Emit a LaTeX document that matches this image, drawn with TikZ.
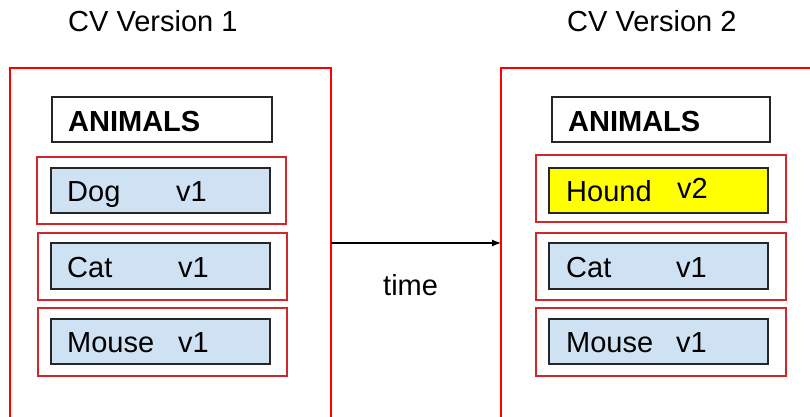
\documentclass[tikz,border=0pt]{standalone}
\usepackage{fontspec}
\setmainfont{Liberation Sans}
\usetikzlibrary{arrows.meta}
\definecolor{outred}{HTML}{FF0000}
\definecolor{inred}{HTML}{D0282A}
\definecolor{lblue}{HTML}{CFE2F3}
\definecolor{yel}{HTML}{FFFF00}
\tikzset{
  txt/.style={anchor=base west, inner sep=0pt, font=\fontsize{29}{34}\selectfont},
  btxt/.style={txt, font=\fontsize{29}{34}\selectfont\bfseries},
  outerbox/.style={draw=outred, line width=2.4pt},
  slotbox/.style={draw=inred, line width=1.4pt},
  itembox/.style={draw=black!85, line width=1.4pt, fill=lblue},
  hdrbox/.style={draw=black!85, line width=1.4pt, fill=white},
}
\begin{document}
\begin{tikzpicture}[x=1pt,y=-1pt]
\useasboundingbox (0,0) rectangle (810,417);
\clip (0,0) rectangle (810,417);
\fill[white] (0,0) rectangle (810,417);
% titles
\node[txt] (t1) at (68,32) {CV Version 1};
\node[txt] (t2) at (567,32) {CV Version 2};
% outer boxes
\draw[outerbox] (10,68) rectangle (331,440);
\draw[outerbox] (501,68) rectangle (830,440);
\coordinate (L) at (331,243);
\coordinate (R) at (501,243);
% left column
\draw[hdrbox] (52,97) rectangle (272,142);
\node[btxt] (a1) at (68,131.5) {ANIMALS};
\draw[slotbox] (37,157) rectangle (286,224);
\draw[itembox] (51,168) rectangle (270,213);
\node[txt] (d1) at (67,201.5) {Dog};
\node[txt] (dv1) at (176,201.5) {v1};
\draw[slotbox] (38,233) rectangle (287,300);
\draw[itembox] (51,243) rectangle (270,289);
\node[txt] (c1) at (67,277.5) {Cat};
\node[txt] (cv1) at (178,277.5) {v1};
\draw[slotbox] (38,308) rectangle (287,376);
\draw[itembox] (51,319) rectangle (270,364);
\node[txt] (m1) at (67,352) {Mouse};
\node[txt] (mv1) at (178,352) {v1};
% right column
\draw[hdrbox] (552,97) rectangle (770,142);
\node[btxt] (a2) at (568,131.5) {ANIMALS};
\draw[slotbox] (536,155) rectangle (786,222);
\draw[itembox, fill=yel] (549,168) rectangle (768,213);
\node[txt] (h2) at (566,201.5) {Hound};
\node[txt] (hv2) at (677,198.5) {v2};
\draw[slotbox] (536,233) rectangle (786,300);
\draw[itembox] (549,243) rectangle (768,289);
\node[txt] (c2) at (566,277.5) {Cat};
\node[txt] (cv2) at (676,277.5) {v1};
\draw[slotbox] (536,308) rectangle (786,376);
\draw[itembox] (549,319) rectangle (768,364);
\node[txt] (m2) at (566,352) {Mouse};
\node[txt] (mv2) at (676,352) {v1};
% arrow
\draw[line width=1.2pt, -{Latex[length=9pt,width=7pt]}] (L) -- (R);
\node[txt] (time) at (383,295) {time};
\end{tikzpicture}
\end{document}
